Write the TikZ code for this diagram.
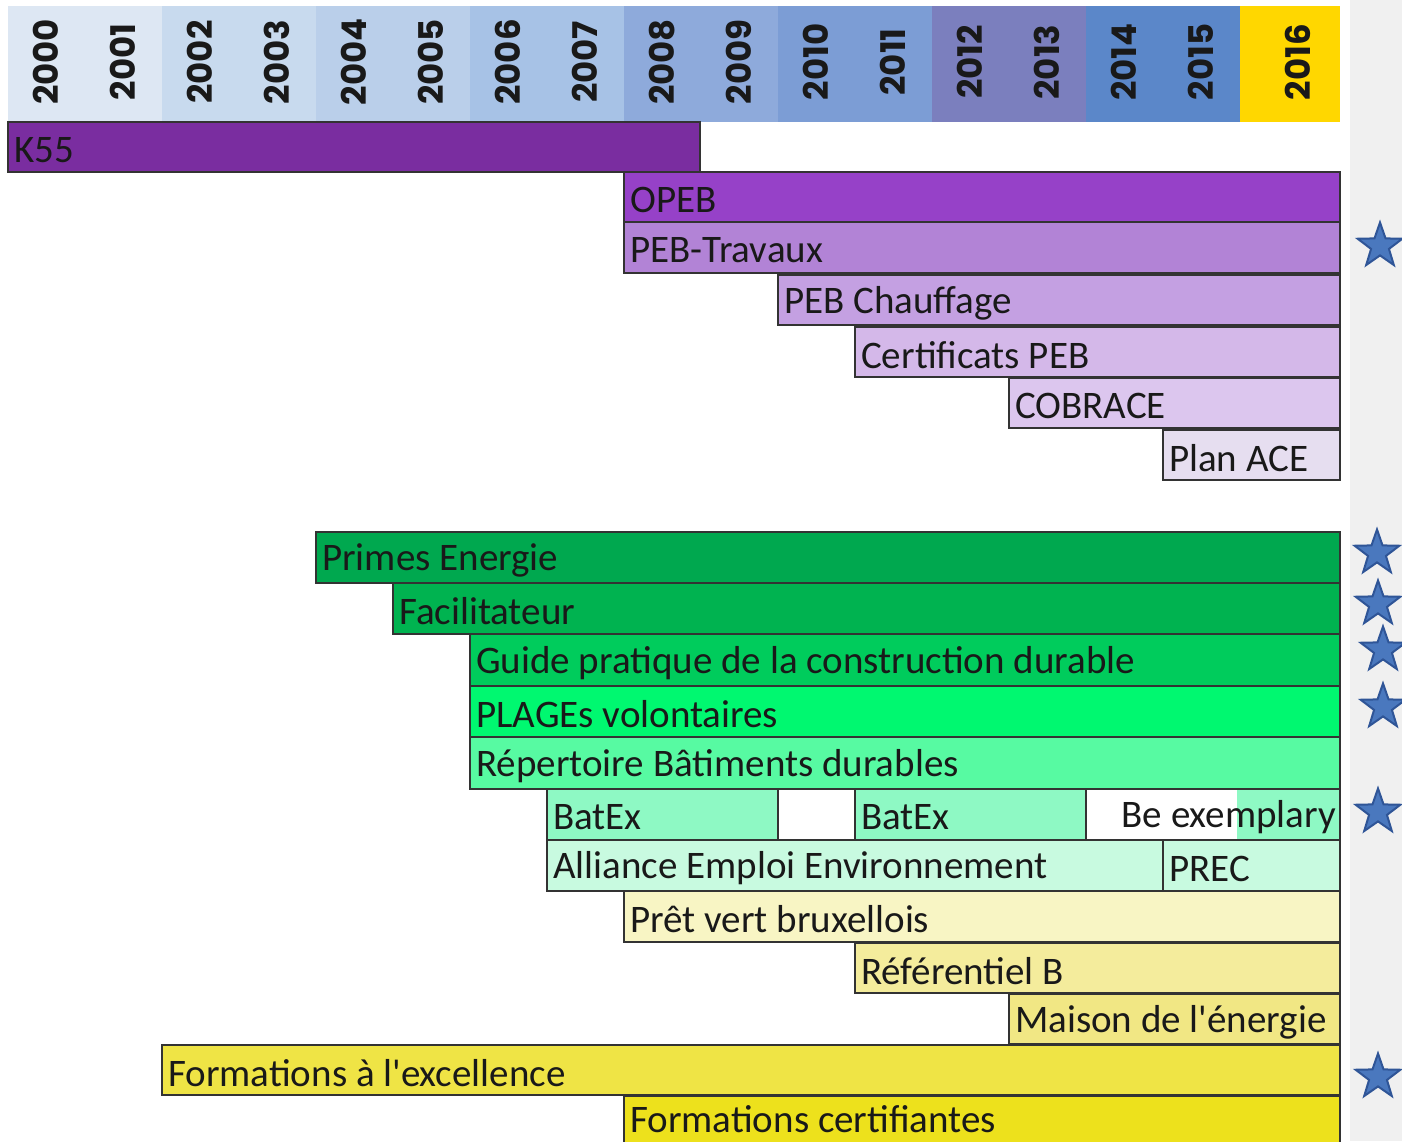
\documentclass[tikz,border=0pt]{standalone}
\usepackage{fontspec}
\setmainfont{Carlito}[Ligatures=TeXOff]
\newfontfamily\yearfont{Poppins}
\usetikzlibrary{shapes.geometric}
\definecolor{hdA}{HTML}{DDE7F3}
\definecolor{hdB}{HTML}{C8DAEE}
\definecolor{hdC}{HTML}{BACFEA}
\definecolor{hdD}{HTML}{A7C2E6}
\definecolor{hdE}{HTML}{8EAADB}
\definecolor{hdF}{HTML}{7C9DD5}
\definecolor{hdG}{HTML}{7B7FBE}
\definecolor{hdH}{HTML}{5B87C9}
\definecolor{hdY}{HTML}{FFD700}
\definecolor{sidegray}{HTML}{F0F0F0}
\definecolor{barline}{HTML}{333333}
\definecolor{cK}{HTML}{7A2DA0}
\definecolor{cOpeb}{HTML}{9641C8}
\definecolor{cPebt}{HTML}{B283D6}
\definecolor{cPebc}{HTML}{C4A0E2}
\definecolor{cCert}{HTML}{D4B8E9}
\definecolor{cCobr}{HTML}{DCC6EE}
\definecolor{cPlan}{HTML}{E6DEF0}
\definecolor{gA}{HTML}{00A84F}
\definecolor{gB}{HTML}{00B350}
\definecolor{gC}{HTML}{00CC5C}
\definecolor{gD}{HTML}{00F870}
\definecolor{gE}{HTML}{57FAA2}
\definecolor{gBatex}{HTML}{8EF9C4}
\definecolor{gAll}{HTML}{C8FAE0}
\definecolor{yPret}{HTML}{F8F5C4}
\definecolor{yRef}{HTML}{F4EC9C}
\definecolor{yMais}{HTML}{F1E784}
\definecolor{yExc}{HTML}{EFE445}
\definecolor{yCert}{HTML}{EDE11C}
\definecolor{starfill}{HTML}{4A78BE}
\definecolor{starline}{HTML}{2F5597}
\tikzset{
  barbox/.style={draw=barline, line width=2pt, anchor=north west, inner sep=0pt, outer sep=0pt},
  barlabel/.style={anchor=west, inner sep=0pt, font=\fontsize{39}{41}\selectfont, text=black!90},
  yearlabel/.style={rotate=90, inner sep=0pt, text=black!90, font=\yearfont\bfseries\fontsize{34}{36}\selectfont},
  bluestar/.style={star, star points=5, star point ratio=2.5, fill=starfill, draw=starline, line width=2pt, minimum size=47pt, inner sep=0pt}
}
\newcommand\tlbar[7]{%
  \node[barbox, fill=#6, minimum width={(#4-#2)*1pt}, minimum height={(#5-#3)*1pt}] (#1) at (#2,#3) {};
  \node[barlabel] (#1-t) at ([xshift=6pt,yshift=-3pt]#1.west) {#7};}
\begin{document}
\begin{tikzpicture}[x=1pt,y=-1pt]
\useasboundingbox (0,0) rectangle (1402,1141);
\fill[white] (0,0) rectangle (1402,1141);
\fill[sidegray] (1350,0) rectangle (1402,1141);
% header
\fill[hdA] (8,6) rectangle (162,122);
\fill[hdB] (162,6) rectangle (316,122);
\fill[hdC] (316,6) rectangle (470,122);
\fill[hdD] (470,6) rectangle (624,122);
\fill[hdE] (624,6) rectangle (778,122);
\fill[hdF] (778,6) rectangle (932,122);
\fill[hdG] (932,6) rectangle (1086,122);
\fill[hdH] (1086,6) rectangle (1240,122);
\fill[hdY] (1240,6) rectangle (1340,122);
\foreach \i in {0,...,15}{
  \pgfmathtruncatemacro{\yr}{2000+\i}
  \node[yearlabel] (y\yr) at ({8+77*\i+38}, 62) {\yr};
}
\node[yearlabel] (y2016) at (1298,62) {2016};
% purple group
\tlbar{k55}{8}{122}{700}{172}{cK}{K55}
\tlbar{opeb}{624}{172}{1340}{222}{cOpeb}{OPEB}
\tlbar{pebt}{624}{222}{1340}{273}{cPebt}{PEB-Travaux}
\tlbar{pebc}{778}{275}{1340}{325}{cPebc}{PEB Chauffage}
\tlbar{cert}{855}{327}{1340}{377}{cCert}{Certificats PEB}
\tlbar{cobr}{1009}{378}{1340}{428}{cCobr}{COBRACE}
\tlbar{plan}{1163}{430}{1340}{480}{cPlan}{Plan ACE}
% green group
\tlbar{prim}{316}{532}{1340}{583}{gA}{Primes Energie}
\tlbar{faci}{393}{583}{1340}{634}{gB}{Facilitateur}
\tlbar{guid}{470}{634}{1340}{686}{gC}{Guide pratique de la construction durable}
\tlbar{plag}{470}{686}{1340}{737}{gD}{PLAGEs volontaires}
\tlbar{rep}{470}{737}{1340}{789}{gE}{Répertoire Bâtiments durables}
\tlbar{batexa}{547}{789}{778}{840}{gBatex}{BatEx}
\tlbar{batexb}{855}{789}{1086}{840}{gBatex}{BatEx}
\fill[white] (1086,789) rectangle (1237,840);
\fill[gBatex] (1237,789) rectangle (1340,840);
\node[barbox, minimum width=254pt, minimum height=51pt] (be) at (1086,789) {};
\node[barlabel, anchor=east] (be-t) at ([xshift=-4pt,yshift=-3pt]be.east) {Be exemplary};
\tlbar{all}{547}{840}{1163}{891}{gAll}{Alliance Emploi Environnement}
\tlbar{prec}{1163}{840}{1340}{891}{gAll}{PREC}
% yellow group
\tlbar{pret}{624}{891}{1340}{942}{yPret}{Prêt vert bruxellois}
\tlbar{ref}{855}{943}{1340}{993}{yRef}{Référentiel B}
\tlbar{mais}{1009}{994}{1340}{1044}{yMais}{Maison de l'énergie}
\tlbar{fexc}{162}{1045}{1340}{1095}{yExc}{Formations à l'excellence}
\node[barbox, fill=yCert, minimum width=716pt, minimum height=50pt] (fcert) at (624,1096) {};
\node[barlabel, anchor=base west] (fcert-t) at (630,1132) {Formations certifiantes};
% stars
\node[bluestar] (s1) at (1380,246) {};
\node[bluestar] (s2) at (1377,553) {};
\node[bluestar] (s3) at (1378,604) {};
\node[bluestar] (s4) at (1383,650) {};
\node[bluestar] (s5) at (1383,707) {};
\node[bluestar] (s6) at (1378,812) {};
\node[bluestar] (s7) at (1378,1077) {};
\end{tikzpicture}
\end{document}
